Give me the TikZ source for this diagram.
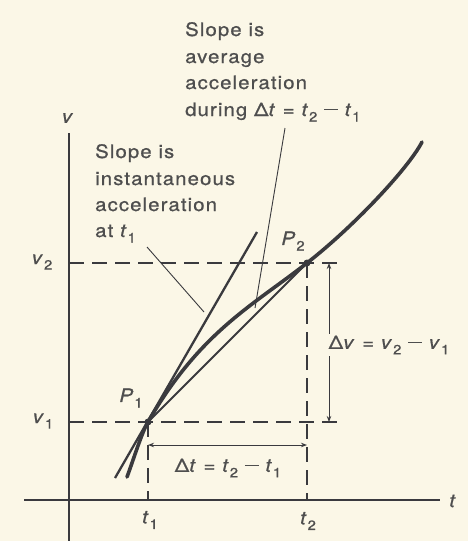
\documentclass[tikz,border=0pt]{standalone}
\usepackage{fontspec}
\setmainfont{TeX Gyre Heros}[FakeStretch=1.1,LetterSpace=6,FakeBold=0.8]
\usetikzlibrary{arrows.meta,calc}
\definecolor{bg}{RGB}{251,247,231}
\definecolor{ink}{RGB}{58,58,62}
\definecolor{txt}{RGB}{78,78,78}
\newcommand\lo[1]{\raisebox{-0.3em}{\fontsize{13.5}{13.5}\selectfont #1}}
\newcommand\mvar[1]{\textit{#1}}
\newcommand\mminus{\rule[0.3em]{0.75em}{1.4pt}}
\begin{document}
\begin{tikzpicture}[x=1pt,y=-1pt,
  lbl/.style={text=txt,font=\fontsize{18.5}{26}\selectfont,inner sep=0pt},
  line/.style={anchor=base west},
  axis/.style={draw=ink,line width=1.5pt},
  guide/.style={draw=ink,line width=1.5pt,dash pattern=on 15pt off 8pt},
  curvestyle/.style={draw=ink,line width=3.6pt,line cap=round},
  tangentstyle/.style={draw=ink,line width=2.3pt},
  chordstyle/.style={draw=ink,line width=2pt},
  leader/.style={draw=ink,line width=0.9pt},
  dim/.style={draw=ink,line width=1pt,{Stealth[length=6pt,width=4.5pt]}-{Stealth[length=6pt,width=4.5pt]}},
  dot/.style={circle,fill=ink,inner sep=0pt,minimum size=7pt}]
\fill[bg] (0,0) rectangle (468,541);
\useasboundingbox (0,0) rectangle (468,541);

% coordinates
\coordinate (O) at (69,500);
\coordinate (vtop) at (69,133);
\coordinate (vbot) at (69,541);
\coordinate (tleft) at (24,500);
\coordinate (tright) at (440,500);
\coordinate (P1) at (148,422);
\coordinate (P2) at (307,263);
\coordinate (v2a) at (69,263);
\coordinate (v2b) at (340,263);
\coordinate (v1a) at (69,422);
\coordinate (v1b) at (340,422);
\coordinate (t1b) at (148,500);
\coordinate (t2b) at (307,500);
\coordinate (dta) at (148,445);
\coordinate (dtb) at (307,445);
\coordinate (dva) at (329,263);
\coordinate (dvb) at (329,422);
\coordinate (TA) at (115,478);
\coordinate (TB) at (257,232);
\coordinate (C0) at (127,477);
\coordinate (C3) at (422,142);
\coordinate (L1a) at (147,247);
\coordinate (L1b) at (204,312);
\coordinate (L2a) at (285,128);
\coordinate (L2b) at (255,308);

% guides
\draw[guide] (v2a) -- (v2b);
\draw[guide] (v1a) -- (v1b);
\draw[guide] (P1) -- (t1b);
\draw[guide] (P2) -- (t2b);

% axes
\draw[axis] (vtop) -- (vbot);
\draw[axis] (tleft) -- (tright);

% dimension arrows
\draw[dim] (dta) -- (dtb);
\draw[dim] (dva) -- (dvb);

% tangent and chord
\draw[tangentstyle] (TA) -- (TB);
\draw[chordstyle] (P1) -- (P2);

% curve
\draw[curvestyle] (C0) .. controls (134,458) and (142,432) .. (P1)
  .. controls (200,332) and (252,306) .. (P2)
  .. controls (352,228) and (408,169) .. (C3);

\node[dot] (d1) at (P1) {};
\node[dot] (d2) at (P2) {};

% leaders
\draw[leader] (L1a) -- (L1b);
\draw[leader] (L2a) -- (L2b);

% axis labels
\node[lbl] (vl) at (68,118) {\mvar{v}};
\node[lbl] (tl) at (453,501) {\mvar{t}};
\node[lbl] (t1l) at (150,520) {\mvar{t}\lo{1}};
\node[lbl] (t2l) at (308,521) {\mvar{t}\lo{2}};
\node[lbl] (v2l) at (42,262) {\mvar{v}\lo{2}};
\node[lbl] (v1l) at (43,421) {\mvar{v}\lo{1}};
\node[lbl] (p1l) at (131,398) {\mvar{P}\lo{1}};
\node[lbl] (p2l) at (293,241) {\mvar{P}\lo{2}};

% dimension labels
\node[lbl,fill=bg,inner sep=2pt] (dvl) at (389,345) {Δ\mvar{v} = \mvar{v}\lo{2} \mminus{} \mvar{v}\lo{1}};
\node[lbl] (dtl) at (228,468) {Δ\mvar{t} = \mvar{t}\lo{2} \mminus{} \mvar{t}\lo{1}};

% text blocks
\node[lbl,line] (a1) at (185,36) {Slope is};
\node[lbl,line] (a2) at (185,63) {average};
\node[lbl,line] (a3) at (185,89) {acceleration};
\node[lbl,line] (a4) at (185,116) {during Δ\mvar{t} = \mvar{t}\lo{2} \mminus{} \mvar{t}\lo{1}};

\node[lbl,line] (b1) at (95,158) {Slope is};
\node[lbl,line] (b2) at (95,185) {instantaneous};
\node[lbl,line] (b3) at (95,211) {acceleration};
\node[lbl,line] (b4) at (95,237) {at \mvar{t}\lo{1}};
\end{tikzpicture}
\end{document}
